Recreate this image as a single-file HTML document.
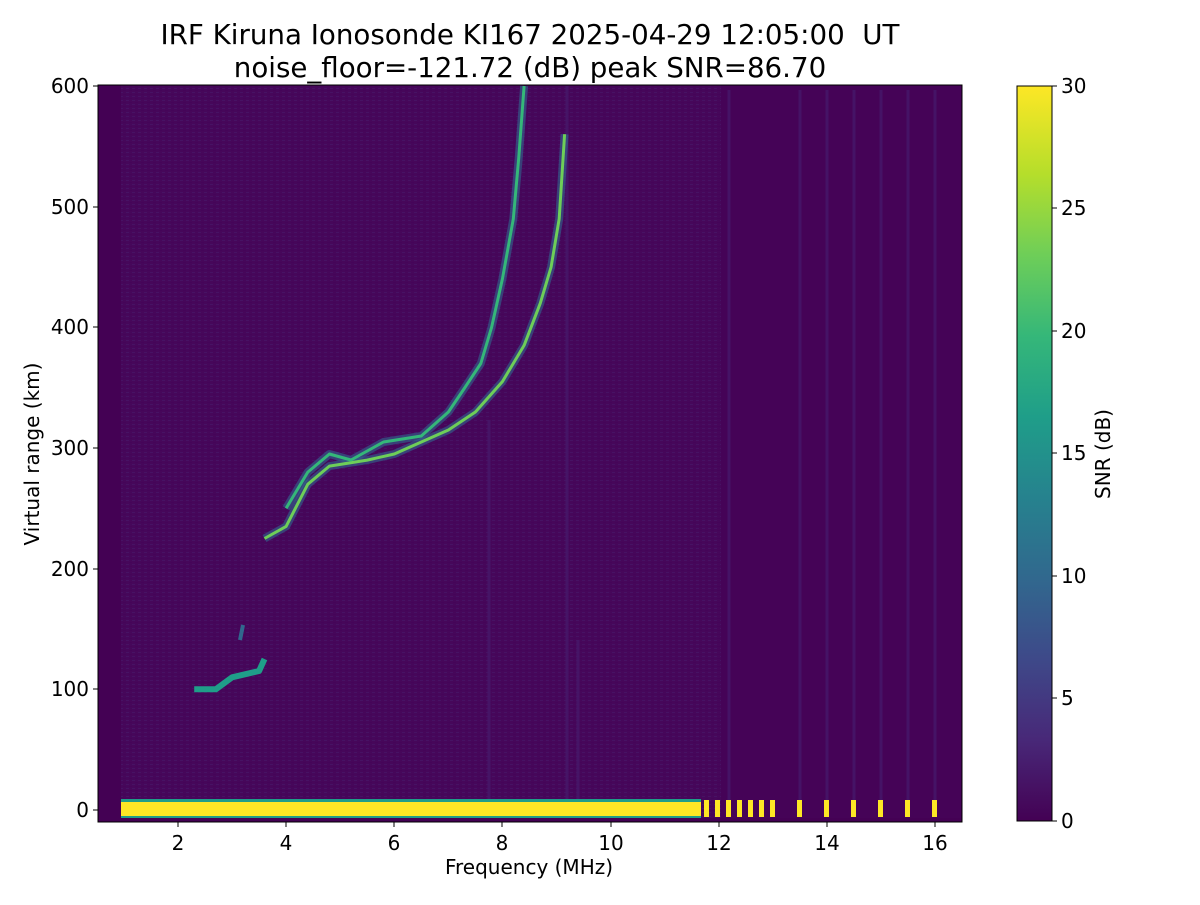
<!DOCTYPE html>
<html><head><meta charset="utf-8"><style>
body{margin:0;background:#fff;}
svg text{font-family:"DejaVu Sans","Liberation Sans",sans-serif;fill:#000}
</style></head><body>
<svg width="1200" height="900" viewBox="0 0 1200 900" xmlns="http://www.w3.org/2000/svg">
<defs>
<linearGradient id="vir" x1="0" y1="1" x2="0" y2="0">
<stop offset="0" stop-color="#440154"/><stop offset="0.11" stop-color="#482878"/>
<stop offset="0.22" stop-color="#3e4989"/><stop offset="0.33" stop-color="#31688e"/>
<stop offset="0.44" stop-color="#26828e"/><stop offset="0.55" stop-color="#1f9e89"/>
<stop offset="0.66" stop-color="#35b779"/><stop offset="0.77" stop-color="#6ece58"/>
<stop offset="0.88" stop-color="#b5de2b"/><stop offset="1" stop-color="#fde725"/>
</linearGradient>
<pattern id="noise" width="6" height="4" patternUnits="userSpaceOnUse">
<rect width="6" height="4" fill="#46085b"/>
<rect x="0" y="0" width="3" height="1" fill="#471466"/>
<rect x="3" y="2" width="3" height="1" fill="#45045a"/>
</pattern>
</defs>
<text x="530" y="44" font-size="27.7" text-anchor="middle" xml:space="preserve">IRF Kiruna Ionosonde KI167 2025-04-29 12:05:00  UT</text>
<text x="530" y="77" font-size="27.7" text-anchor="middle">noise_floor=-121.72 (dB) peak SNR=86.70</text>
<rect x="98" y="85" width="864" height="737" fill="#440154"/>
<rect x="121" y="85" width="600" height="737" fill="url(#noise)" opacity="0.9"/>
<rect x="721" y="85" width="240" height="737" fill="#450357"/>
<g stroke="#46186a" stroke-width="3" opacity="0.8">
<line x1="489" y1="420" x2="489" y2="800"/><line x1="567" y1="86" x2="567" y2="800"/>
<line x1="578" y1="640" x2="578" y2="800"/><line x1="800" y1="90" x2="800" y2="800"/>
<line x1="854" y1="90" x2="854" y2="800"/><line x1="881" y1="90" x2="881" y2="800"/>
<line x1="908" y1="90" x2="908" y2="800"/><line x1="935" y1="90" x2="935" y2="800"/>
<line x1="827" y1="90" x2="827" y2="800"/><line x1="729" y1="90" x2="729" y2="800"/>
</g>
<g fill="none" stroke-linejoin="round" stroke-linecap="butt">
<polyline points="264.5,538.5 286.1,526.4 307.8,484.2 329.4,466.1 367.2,460.1 394.3,454 421.3,442 448.4,430 475.4,412 502.4,381.6 524.1,345.4 540.3,303.2 551.1,267 559.2,218.7 564.6,134.2" stroke="#31688e" stroke-width="8" opacity="0.6"/>
<polyline points="286.1,508.3 307.8,472.1 329.4,454 351,460 383.5,442 421.3,436 448.4,412 464.6,388 480.8,363.5 491.6,327.3 502.4,279 513.3,219 518.7,158.4 524.1,86" stroke="#31688e" stroke-width="8" opacity="0.6"/>
<polyline points="264.5,538.5 286.1,526.4 307.8,484.2 329.4,466.1 367.2,460.1 394.3,454 421.3,442 448.4,430 475.4,412 502.4,381.6 524.1,345.4 540.3,303.2 551.1,267 559.2,218.7 564.6,134.2" stroke="#6ece58" stroke-width="3"/>
<polyline points="286.1,508.3 307.8,472.1 329.4,454 351,460 383.5,442 421.3,436 448.4,412 464.6,388 480.8,363.5 491.6,327.3 502.4,279 513.3,219 518.7,158.4 524.1,86" stroke="#35b779" stroke-width="3"/>
<polyline points="194.2,689.3 215.8,689.3 232.1,677.3 259.1,671 264.5,659" stroke="#1f9e89" stroke-width="6"/>
<polyline points="240,640 243,625" stroke="#31688e" stroke-width="4"/>
</g>
<rect x="121" y="799" width="580" height="19" fill="#1f9e89"/>
<rect x="121" y="802" width="580" height="14" fill="#fde725"/>
<rect x="98" y="818" width="864" height="4" fill="#440154"/>
<g fill="#fde725">
<rect x="704" y="800" width="5" height="17"/><rect x="715" y="800" width="5" height="17"/>
<rect x="726" y="800" width="5" height="17"/><rect x="737" y="800" width="5" height="17"/>
<rect x="748" y="800" width="5" height="17"/><rect x="759" y="800" width="5" height="17"/>
<rect x="770" y="800" width="5" height="17"/><rect x="797" y="800" width="5" height="17"/>
<rect x="824" y="800" width="5" height="17"/><rect x="851" y="800" width="5" height="17"/>
<rect x="878" y="800" width="5" height="17"/><rect x="905" y="800" width="5" height="17"/>
<rect x="932" y="800" width="5" height="17"/>
</g>
<rect x="98" y="85" width="864" height="737" fill="none" stroke="#000" stroke-width="1"/>
<g stroke="#000">
<line x1="178" y1="822" x2="178" y2="827"/><line x1="286" y1="822" x2="286" y2="827"/>
<line x1="394" y1="822" x2="394" y2="827"/><line x1="502" y1="822" x2="502" y2="827"/>
<line x1="611" y1="822" x2="611" y2="827"/><line x1="719" y1="822" x2="719" y2="827"/>
<line x1="827" y1="822" x2="827" y2="827"/><line x1="935" y1="822" x2="935" y2="827"/>
<line x1="93" y1="810" x2="98" y2="810"/><line x1="93" y1="689" x2="98" y2="689"/>
<line x1="93" y1="569" x2="98" y2="569"/><line x1="93" y1="448" x2="98" y2="448"/>
<line x1="93" y1="327" x2="98" y2="327"/><line x1="93" y1="207" x2="98" y2="207"/>
<line x1="93" y1="86" x2="98" y2="86"/>
</g>
<g font-size="20" text-anchor="middle">
<text x="178" y="850">2</text><text x="286" y="850">4</text><text x="394" y="850">6</text>
<text x="502" y="850">8</text><text x="611" y="850">10</text><text x="719" y="850">12</text>
<text x="827" y="850">14</text><text x="935" y="850">16</text>
</g>
<g font-size="20" text-anchor="end">
<text x="89" y="817">0</text><text x="89" y="696">100</text><text x="89" y="576">200</text>
<text x="89" y="455">300</text><text x="89" y="334">400</text><text x="89" y="214">500</text>
<text x="89" y="93">600</text>
</g>
<text x="529" y="874" font-size="20" text-anchor="middle">Frequency (MHz)</text>
<text transform="translate(39,454) rotate(-90)" font-size="20" text-anchor="middle">Virtual range (km)</text>
<rect x="1017" y="86" width="35" height="735" fill="url(#vir)" stroke="#000" stroke-width="1"/>
<g stroke="#000">
<line x1="1052" y1="821" x2="1057" y2="821"/><line x1="1052" y1="698" x2="1057" y2="698"/>
<line x1="1052" y1="576" x2="1057" y2="576"/><line x1="1052" y1="453" x2="1057" y2="453"/>
<line x1="1052" y1="331" x2="1057" y2="331"/><line x1="1052" y1="208" x2="1057" y2="208"/>
<line x1="1052" y1="86" x2="1057" y2="86"/>
</g>
<g font-size="20">
<text x="1061" y="828">0</text><text x="1061" y="705">5</text><text x="1061" y="583">10</text>
<text x="1061" y="460">15</text><text x="1061" y="338">20</text><text x="1061" y="215">25</text>
<text x="1061" y="93">30</text>
</g>
<text transform="translate(1110,454) rotate(-90)" font-size="20" text-anchor="middle">SNR (dB)</text>
</svg>
</body></html>
